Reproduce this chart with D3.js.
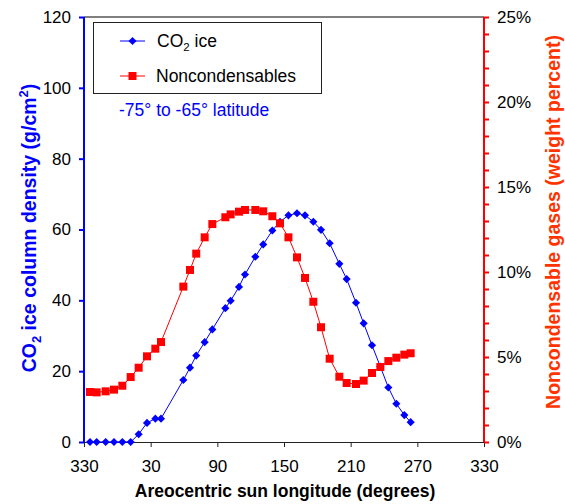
<!DOCTYPE html>
<html><head><meta charset="utf-8">
<script src="https://cdn.jsdelivr.net/npm/d3@7"></script>
<style>body{margin:0;background:#fff}text{font-family:"Liberation Sans",Arial,sans-serif}</style>
</head><body><svg id="c" width="565" height="504"></svg>
<script>
// Areocentric sun longitude (degrees), sampled positions
const ls = [335.4, 341.4, 349.5, 357, 4.5, 12, 19.2, 26.7, 34.2, 39.3, 59.4, 65.4, 71, 78.6, 85.5, 97.2, 102, 109.5, 114.9, 124.2, 131.3, 139.5, 146.4, 154, 161.7, 168.9, 176.4, 183.3, 191.1, 199.8, 206.4, 214.8, 221.7, 229.2, 236.7, 243.9, 251.1, 258.3, 264];
// CO2 ice column density (g/cm^2)
const co2Ice = [0, 0, 0, 0, 0, 0, 2.2, 5.4, 6.6, 6.6, 17.5, 21.0, 24.4, 28.2, 31.8, 37.8, 39.9, 43.8, 47.3, 52.3, 55.8, 59.7, 62.2, 64.0, 64.6, 64.0, 62.2, 59.9, 56.1, 50.3, 46.0, 39.3, 33.5, 27.3, 21.3, 15.4, 10.8, 7.6, 5.6];
// Noncondensable gases (weight percent)
const noncond = [2.94, 2.92, 2.98, 3.08, 3.31, 3.82, 4.37, 5.04, 5.49, 5.88, 9.14, 10.12, 11.08, 12.04, 12.82, 13.22, 13.39, 13.55, 13.65, 13.65, 13.57, 13.28, 12.86, 12.04, 10.86, 9.65, 8.25, 6.75, 4.90, 3.84, 3.47, 3.41, 3.61, 4.06, 4.41, 4.76, 4.96, 5.14, 5.22];
const xTicks = [330, 390, 450, 510, 570, 630, 690];
const yLeftTicks = [0, 20, 40, 60, 80, 100, 120];
const yRightTicks = d3.range(0, 26, 1);
const seriesNames = ["CO\u2082 ice", "Noncondensables"];

const svg = d3.select("#c");
const L = 84, R = 484, T = 17, B = 442;
const unwrap = d => d < 330 ? d + 360 : d;
const x = d3.scaleLinear().domain([330, 690]).range([L, R]);
const y = d3.scaleLinear().domain([0, 120]).range([B, T]);
const y2 = d3.scaleLinear().domain([0, 25]).range([B, T]);

// top border
svg.append("line").attr("x1", L).attr("x2", R).attr("y1", T).attr("y2", T).attr("stroke", "#000").attr("stroke-width", 1);

// x axis
const gx = svg.append("g").attr("transform", `translate(0,${B})`)
  .call(d3.axisBottom(x).tickValues(xTicks).tickSize(5).tickPadding(13).tickFormat(d => d % 360));
gx.select(".domain").remove();
gx.selectAll("line").attr("stroke", "#222");
gx.selectAll("text").attr("font-size", 17).attr("fill", "#000");
svg.append("line").attr("x1", L).attr("x2", R).attr("y1", B + 0.5).attr("y2", B + 0.5).attr("stroke", "#222").attr("stroke-width", 1.2);

// left axis
const gy = svg.append("g").attr("transform", `translate(${L},0)`)
  .call(d3.axisLeft(y).tickValues(yLeftTicks).tickSize(5).tickPadding(8));
gy.select(".domain").remove();
gy.selectAll("line").attr("stroke", "#0000ff").attr("stroke-width", 2);
gy.selectAll("text").attr("font-size", 17).attr("fill", "#000");
svg.append("line").attr("x1", L).attr("x2", L).attr("y1", T).attr("y2", B).attr("stroke", "#0000ff").attr("stroke-width", 2);

// right axis
const gy2 = svg.append("g").attr("transform", `translate(${R},0)`)
  .call(d3.axisRight(y2).tickValues(yRightTicks).tickSize(5).tickPadding(8).tickFormat(d => d % 5 === 0 ? d + "%" : ""));
gy2.select(".domain").remove();
gy2.selectAll("line").attr("stroke", "#ff0000").attr("stroke-width", 2);
gy2.selectAll("text").attr("font-size", 17).attr("fill", "#000");
svg.append("line").attr("x1", R).attr("x2", R).attr("y1", T).attr("y2", B).attr("stroke", "#ff0000").attr("stroke-width", 2);

// series
const ptsBlue = ls.map((d, i) => [x(unwrap(d)), y(co2Ice[i])]);
const ptsRed = ls.map((d, i) => [x(unwrap(d)), y2(noncond[i])]);
const line = d3.line();
const sq = d3.symbol().type(d3.symbolSquare).size(64);
const dia = d3.symbol().type(d3.symbolDiamond2).size(42);
svg.append("path").attr("d", line(ptsBlue)).attr("fill", "none").attr("stroke", "#0000ff").attr("stroke-width", 1);
svg.append("g").selectAll("path").data(ptsBlue).join("path")
  .attr("d", dia).attr("transform", d => `translate(${d[0]},${d[1]})`).attr("fill", "#0000ff");
svg.append("path").attr("d", line(ptsRed)).attr("fill", "none").attr("stroke", "#ff0000").attr("stroke-width", 1);
svg.append("g").selectAll("path").data(ptsRed).join("path")
  .attr("d", sq).attr("transform", d => `translate(${d[0]},${d[1]})`).attr("fill", "#ff0000");

// legend
svg.append("rect").attr("x", 93.5).attr("y", 22.5).attr("width", 228).attr("height", 71).attr("fill", "#fff").attr("stroke", "#222").attr("stroke-width", 1);
const legY = [41, 76];
const legColor = ["#0000ff", "#ff0000"];
const legSym = [dia, sq];
legY.forEach((ly, i) => {
  svg.append("line").attr("x1", 120).attr("x2", 145).attr("y1", ly).attr("y2", ly).attr("stroke", legColor[i]).attr("stroke-width", 1);
  svg.append("path").attr("d", legSym[i]).attr("transform", `translate(132.5,${ly})`).attr("fill", legColor[i]);
});
const t1 = svg.append("text").attr("x", 157).attr("y", 47).attr("font-size", 17.5).attr("fill", "#000");
t1.append("tspan").text("CO");
t1.append("tspan").attr("font-size", 11.5).attr("dy", 4).text("2");
t1.append("tspan").attr("dy", -4).text(" ice");
svg.append("text").attr("x", 156).attr("y", 82).attr("font-size", 17.5).attr("fill", "#000").text(seriesNames[1]);

svg.append("text").attr("x", 119).attr("y", 116).attr("font-size", 17.5).attr("fill", "#0000ff").text("-75° to -65° latitude");

// axis titles
svg.append("text").attr("x", 285).attr("y", 497).attr("text-anchor", "middle").attr("font-size", 17.5).attr("font-weight", "bold").attr("fill", "#000").text("Areocentric sun longitude (degrees)");
const yl = svg.append("text").attr("transform", "translate(36,228) rotate(-90)").attr("text-anchor", "middle").attr("font-size", 19.5).attr("font-weight", "bold").attr("fill", "#0000ff");
yl.append("tspan").text("CO");
yl.append("tspan").attr("font-size", 13).attr("dy", 5).text("2");
yl.append("tspan").attr("dy", -5).text(" ice column density (g/cm");
yl.append("tspan").attr("font-size", 13).attr("dy", -8).text("2");
yl.append("tspan").attr("dy", 8).text(")");
svg.append("text").attr("transform", "translate(560,222) rotate(-90)").attr("text-anchor", "middle").attr("font-size", 19.5).attr("font-weight", "bold").attr("fill", "#ff3300").text("Noncondensable gases (weight percent)");
</script></body></html>
